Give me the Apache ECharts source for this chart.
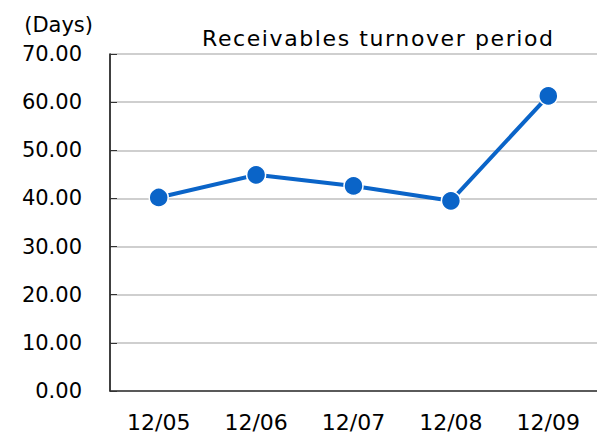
<!DOCTYPE html>
<html><head><meta charset="utf-8">
<script src="https://cdn.jsdelivr.net/npm/echarts@6/dist/echarts.min.js"></script>
<style>html,body{margin:0;padding:0;background:#fff}#c{width:597px;height:434px}</style>
</head><body><div id="c"></div>
<script>
const categories = ['12/05','12/06','12/07','12/08','12/09'];
const values = [40.2, 44.9, 42.6, 39.5, 61.3];
const titleText = 'Receivables turnover period';
const unitText = '(Days)';
const font = 'DejaVu Sans';
const chart = echarts.init(document.getElementById('c'), null, {renderer: 'svg'});
chart.setOption({
  animation: false,
  title: {text: titleText, left: 197, top: 22,
    textStyle: {fontFamily: font, fontSize: 22, fontWeight: 'normal', color: '#000'}},
  grid: {left: 110, right: 0, top: 54, bottom: 43, containLabel: false, outerBoundsMode: 'none'},
  xAxis: {type: 'category', data: categories, boundaryGap: true,
    axisLine: {lineStyle: {color: '#333', width: 1.5}},
    axisTick: {inside: true, length: 7, lineStyle: {color: '#333'}},
    axisLabel: {fontFamily: font, fontSize: 22, lineHeight: 21, color: '#000', margin: 21},
    splitLine: {show: false}},
  yAxis: {type: 'value', min: 0, max: 70, interval: 10, name: unitText,
    nameLocation: 'end', nameGap: 19,
    nameTextStyle: {fontFamily: font, fontSize: 21, color: '#000', align: 'right', padding: [0, 17, 0, 0]},
    axisLine: {show: true, lineStyle: {color: '#000', width: 1.5}},
    axisTick: {show: true, inside: true, length: 7, lineStyle: {color: '#333'}},
    axisLabel: {fontFamily: font, fontSize: 21, color: '#000', margin: 28,
      formatter: v => v.toFixed(2)},
    splitLine: {lineStyle: {color: '#bfbfbf', width: 1.5}}},
  series: [{type: 'line', data: values, symbol: 'circle', symbolSize: 19,
    lineStyle: {color: '#0a64c8', width: 4},
    itemStyle: {color: '#0a64c8', borderColor: '#fff', borderWidth: 1.5}}]
});
document.querySelectorAll('#c text').forEach(t => {
  if (t.textContent === titleText) t.setAttribute('letter-spacing', '1.6');
});
</script></body></html>
